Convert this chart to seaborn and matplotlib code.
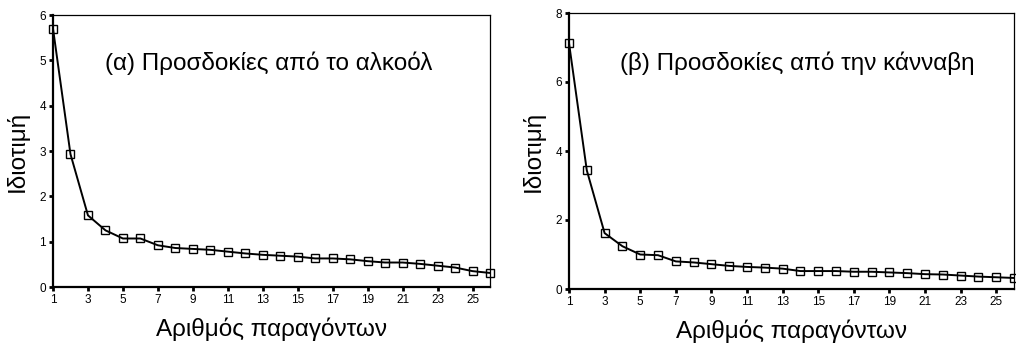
import matplotlib
matplotlib.use('Agg')
import matplotlib.pyplot as plt
import seaborn as sns
import pandas as pd
import numpy as np

# eigenvalues
factors = list(range(1, 27))
alcohol = [5.70, 2.93, 1.58, 1.25, 1.07, 1.07, 0.92, 0.86, 0.84, 0.82,
           0.78, 0.74, 0.71, 0.69, 0.67, 0.63, 0.63, 0.61, 0.57, 0.54,
           0.54, 0.51, 0.47, 0.43, 0.35, 0.31]
cannabis = [7.13, 3.44, 1.62, 1.24, 1.00, 0.98, 0.80, 0.77, 0.72, 0.67,
            0.64, 0.62, 0.59, 0.52, 0.52, 0.52, 0.50, 0.50, 0.48, 0.46,
            0.43, 0.42, 0.39, 0.36, 0.34, 0.32]
titles = ['(α) Προσδοκίες από το αλκοόλ', '(β) Προσδοκίες από την κάνναβη']
ymax = [6, 8]
xticks = list(range(1, 26, 2))

sns.set_style('ticks')
plt.rcParams['font.family'] = ['Liberation Sans', 'DejaVu Sans']
plt.rcParams['text.color'] = 'black'
plt.rcParams['axes.labelcolor'] = 'black'

fig = plt.figure(figsize=(10.16, 3.43), dpi=100)
W, H = 1016, 343
boxes = [(53, 15, 490, 287), (569, 13, 1014, 289)]
series = [alcohol, cannabis]
text_x = [105, 620]

for i in range(2):
    l, t, r, b = boxes[i]
    ax = fig.add_axes([l / W, 1 - b / H, (r - l) / W, (b - t) / H])
    df = pd.DataFrame({'factor': factors, 'eig': series[i]})
    sns.lineplot(data=df, x='factor', y='eig', ax=ax, color='black',
                 linewidth=1.4, marker='s', markersize=5.8,
                 markerfacecolor='none', markeredgecolor='black',
                 markeredgewidth=1.0, clip_on=False)
    ax.set_xlim(1, 26)
    ax.set_ylim(0, ymax[i])
    ax.set_xticks(xticks)
    ax.set_yticks(np.arange(0, ymax[i] + 1, 1 if i == 0 else 2))
    ax.tick_params(axis='both', length=3, width=2, labelsize=8.5, pad=2,
                   color='black', labelcolor='black')
    for s in ['left', 'bottom']:
        ax.spines[s].set_linewidth(1.6)
    for s in ['top', 'right']:
        ax.spines[s].set_visible(True)
        ax.spines[s].set_linewidth(0.9)
    for s in ax.spines.values():
        s.set_color('black')
    ax.set_xlabel('Αριθμός παραγόντων', fontsize=17.5, labelpad=8)
    ax.set_ylabel('Ιδιοτιμή', fontsize=17.5, labelpad=8)
    fig.text(text_x[i] / W, 1 - 63 / H, titles[i], fontsize=17.5,
             va='center', ha='left')

fig.savefig('out.png', dpi=100)
